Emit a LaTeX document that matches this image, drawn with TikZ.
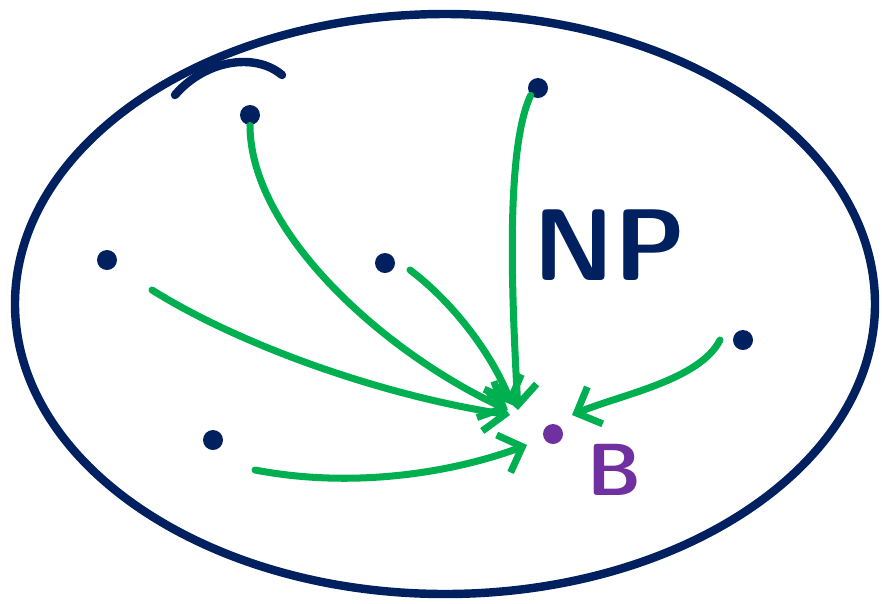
\documentclass[tikz,border=0pt]{standalone}
\usetikzlibrary{arrows.meta}
\definecolor{navy}{HTML}{002060}
\definecolor{grn}{HTML}{00B050}
\definecolor{purp}{HTML}{7030A0}
\begin{document}
\begin{tikzpicture}[x=0.02cm,y=-0.02cm,
  dot/.style={circle, fill=navy, inner sep=0pt, minimum size=0.4cm},
  link/.style={grn, line width=4pt, line cap=round, line join=round,
    -{Straight Barb[length=0.4cm,width=0.8cm]}}]
\useasboundingbox (0,0) rectangle (882,603);
% the class
\draw[navy, line width=4.8pt, line cap=round] (445,304) ellipse [x radius=430, y radius=290];
\draw[navy, line width=4.8pt, line cap=round] (175,95) .. controls (205,60) and (255,52) .. (282,75);
\node[navy, font=\sffamily\bfseries\fontsize{58}{58}\selectfont] (np) at (610,245) {NP};
% problems
\node[dot] (d1) at (250,115) {};
\node[dot] (d2) at (538,88) {};
\node[dot] (d3) at (107,260) {};
\node[dot] (d4) at (385,263) {};
\node[dot] (d5) at (743,340) {};
\node[dot] (d6) at (213,440) {};
\node[dot, fill=purp] (b) at (553,434) {};
\node[purp, font=\sffamily\bfseries\fontsize{42}{42}\selectfont] (blabel) at (615,470) {B};
% reductions
\coordinate (s3) at (152,290);
\coordinate (s4) at (410,270);
\coordinate (s5) at (720,340);
\coordinate (s6) at (255,470);
\coordinate (e1) at (508,410);
\coordinate (e2) at (518,410);
\coordinate (e3) at (512,405);
\coordinate (e4) at (510,415);
\coordinate (e5) at (572,415);
\coordinate (e6) at (527,445);
\draw[link] (d1.south) .. controls (250,230) and (380,350) .. (e1);
\draw[link] (d2.south west) .. controls (505,150) and (512,300) .. (e2);
\draw[link] (s4) .. controls (450,300) and (490,350) .. (e3);
\draw[link] (s3) .. controls (240,345) and (380,395) .. (e4);
\draw[link] (s5) .. controls (700,380) and (620,395) .. (e5);
\draw[link] (s6) .. controls (360,490) and (460,470) .. (e6);
\end{tikzpicture}
\end{document}
